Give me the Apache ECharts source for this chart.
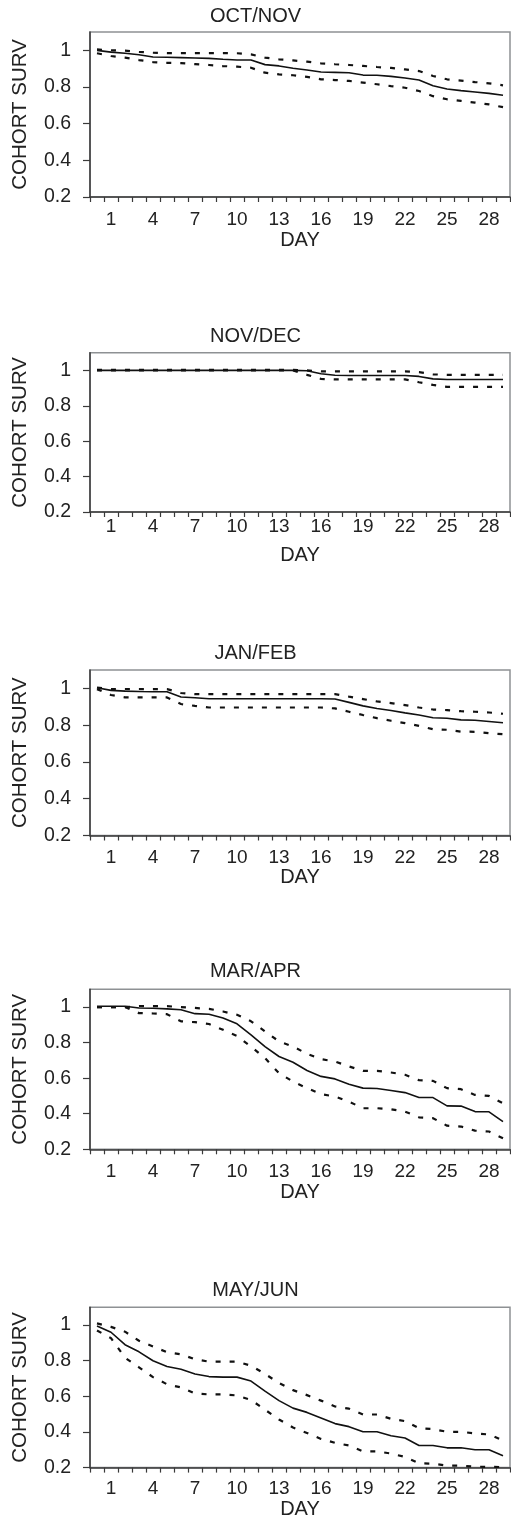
<!DOCTYPE html>
<html>
<head>
<meta charset="utf-8">
<script src="https://cdn.jsdelivr.net/npm/echarts@6/dist/echarts.min.js"></script>
<style>
html,body{margin:0;padding:0;background:#fff;}
#chart{width:511px;height:1520px;}
</style>
</head>
<body>
<div id="chart"></div>
<script>
// Day categories (0..29), labels shown for 1,4,7,...,28
const days = Array.from({length: 30}, (_, i) => String(i));
const yTicks = [0.2, 0.4, 0.6, 0.8, 1];
const panelTitles = ['OCT/NOV', 'NOV/DEC', 'JAN/FEB', 'MAR/APR', 'MAY/JUN'];

// OCT/NOV
const octEst = [1.0,0.99,0.984,0.976,0.964,0.962,0.96,0.958,0.956,0.951,0.947,0.947,0.922,0.915,0.902,0.893,0.882,0.88,0.878,0.865,0.864,0.858,0.849,0.838,0.807,0.789,0.78,0.773,0.765,0.755];
const octUp  = [1.005,1.0,0.998,0.992,0.987,0.985,0.985,0.985,0.985,0.985,0.984,0.978,0.96,0.951,0.945,0.938,0.929,0.924,0.92,0.915,0.909,0.904,0.896,0.887,0.86,0.842,0.835,0.827,0.82,0.809];
const octLo  = [0.984,0.969,0.96,0.947,0.936,0.932,0.93,0.925,0.92,0.914,0.911,0.905,0.878,0.869,0.864,0.855,0.842,0.838,0.833,0.824,0.815,0.805,0.796,0.778,0.75,0.733,0.724,0.715,0.705,0.69];

// NOV/DEC
const novEst = [1.0,1.0,1.0,1.0,1.0,1.0,1.0,1.0,1.0,1.0,1.0,1.0,1.0,1.0,1.0,0.998,0.981,0.973,0.971,0.971,0.971,0.971,0.971,0.966,0.952,0.949,0.949,0.949,0.949,0.949];
const novUp  = [1.003,1.003,1.003,1.003,1.003,1.003,1.003,1.003,1.003,1.003,1.003,1.003,1.003,1.003,1.003,1.0,0.994,0.994,0.994,0.994,0.994,0.994,0.994,0.99,0.978,0.975,0.975,0.975,0.975,0.975];
const novLo  = [1.0,1.0,1.0,1.0,1.0,1.0,1.0,1.0,1.0,1.0,1.0,1.0,1.0,1.0,1.0,0.975,0.952,0.949,0.949,0.949,0.949,0.949,0.949,0.933,0.918,0.907,0.907,0.907,0.907,0.907];

// JAN/FEB
const janEst = [1.003,0.989,0.985,0.983,0.982,0.982,0.953,0.949,0.944,0.944,0.944,0.944,0.944,0.944,0.944,0.944,0.944,0.942,0.924,0.905,0.891,0.88,0.867,0.855,0.84,0.838,0.829,0.827,0.82,0.813];
const janUp  = [1.005,0.996,0.996,0.996,0.996,0.996,0.975,0.969,0.969,0.969,0.969,0.969,0.969,0.969,0.969,0.969,0.969,0.969,0.955,0.942,0.929,0.92,0.909,0.896,0.885,0.882,0.876,0.873,0.869,0.862];
const janLo  = [0.996,0.964,0.951,0.951,0.951,0.951,0.915,0.905,0.896,0.896,0.896,0.896,0.896,0.896,0.896,0.896,0.896,0.891,0.873,0.855,0.838,0.824,0.811,0.796,0.778,0.775,0.765,0.764,0.756,0.751];

// MAR/APR
const marEst = [1.005,1.005,1.005,0.995,0.993,0.99,0.985,0.963,0.96,0.938,0.906,0.844,0.778,0.722,0.69,0.643,0.61,0.596,0.566,0.544,0.542,0.531,0.519,0.491,0.491,0.444,0.443,0.412,0.411,0.356];
const marUp  = [1.0,1.0,1.0,1.005,1.005,1.005,1.0,0.995,0.99,0.975,0.957,0.92,0.863,0.807,0.778,0.737,0.707,0.694,0.666,0.641,0.641,0.632,0.619,0.589,0.585,0.544,0.538,0.506,0.5,0.459];
const marLo  = [1.0,1.0,1.0,0.966,0.964,0.96,0.92,0.915,0.905,0.872,0.838,0.778,0.713,0.628,0.581,0.544,0.51,0.497,0.468,0.431,0.431,0.425,0.412,0.38,0.375,0.333,0.328,0.305,0.3,0.262];

// MAY/JUN
const mayEst = [0.995,0.96,0.89,0.85,0.8,0.768,0.752,0.726,0.711,0.708,0.708,0.686,0.629,0.576,0.534,0.51,0.479,0.447,0.43,0.401,0.401,0.379,0.366,0.324,0.324,0.311,0.311,0.3,0.3,0.266];
const mayUp  = [1.01,0.99,0.963,0.912,0.88,0.848,0.836,0.808,0.795,0.795,0.795,0.772,0.726,0.675,0.635,0.607,0.576,0.543,0.531,0.498,0.498,0.474,0.461,0.421,0.416,0.401,0.401,0.392,0.386,0.352];
const mayLo  = [0.97,0.927,0.817,0.763,0.708,0.668,0.65,0.616,0.611,0.611,0.605,0.58,0.525,0.47,0.425,0.394,0.361,0.339,0.324,0.291,0.291,0.279,0.26,0.224,0.222,0.211,0.211,0.205,0.204,0.203];

const panels = [
  {est: octEst, up: octUp, lo: octLo},
  {est: novEst, up: novUp, lo: novLo},
  {est: janEst, up: janUp, lo: janLo},
  {est: marEst, up: marUp, lo: marLo},
  {est: mayEst, up: mayUp, lo: mayLo}
];

// layout (pixels)
const gridTops    = [32, 352.7, 670, 989.3, 1307.3];
const gridHeights = [165, 159.3, 165.5, 160, 165.4];
const titleTops   = [6, 326.5, 643, 961.5, 1280];
const labelMargins = [13, 5, 12.5, 13, 11.5];
const nameGaps    = [33, 33, 29, 32, 31];

const FONT = "'Liberation Sans', Arial, Helvetica, sans-serif";
const TXT = '#222';
const AX = '#3a3a3a';

const chart = echarts.init(document.getElementById('chart'), null, {renderer: 'canvas'});

const option = {
  animation: false,
  backgroundColor: '#fff',
  textStyle: {fontFamily: FONT},
  title: panelTitles.map((t, i) => ({
    text: t, left: 'center', top: titleTops[i], padding: 0,
    textStyle: {fontFamily: FONT, fontSize: 20, fontWeight: 'normal', color: TXT}
  })),
  grid: gridTops.map((top, i) => ({
    left: 90, right: 1, top: top, height: gridHeights[i],
    show: true, borderColor: '#8e9194', borderWidth: 1.5, backgroundColor: 'transparent'
  })),
  xAxis: gridTops.map((_, i) => ({
    type: 'category', gridIndex: i, data: days, boundaryGap: true,
    name: 'DAY', nameLocation: 'middle', nameGap: nameGaps[i],
    nameTextStyle: {fontFamily: FONT, fontSize: 20, color: TXT},
    axisLine: {show: true, lineStyle: {color: AX, width: 1.5}},
    axisTick: {show: true, interval: 0, length: 5, inside: false, lineStyle: {color: AX, width: 1.2}},
    axisLabel: {
      interval: (idx) => idx % 3 === 1,
      margin: labelMargins[i], fontFamily: FONT, fontSize: 19, color: TXT
    },
    splitLine: {show: false}
  })),
  yAxis: gridTops.map((_, i) => ({
    type: 'value', gridIndex: i, min: 0.2, max: 1.1, interval: 0.2,
    name: 'COHORT SURV', nameLocation: 'middle', nameRotate: 90, nameGap: 59,
    nameTextStyle: {fontFamily: FONT, fontSize: 20.5, color: TXT},
    axisLine: {show: true, lineStyle: {color: AX, width: 1.5}},
    axisTick: {show: true, length: 7, customValues: yTicks, lineStyle: {color: AX, width: 1.2}},
    axisLabel: {customValues: yTicks, margin: 19, fontFamily: FONT, fontSize: 19.5, color: TXT,
      formatter: (v) => String(Math.round(v * 10) / 10)},
    splitLine: {show: false}
  })),
  series: []
};

panels.forEach((p, i) => {
  option.series.push({
    type: 'line', xAxisIndex: i, yAxisIndex: i, data: p.up, symbol: 'none', smooth: false,
    lineStyle: {color: '#111', width: 2.2, type: [5, 9]}
  });
  option.series.push({
    type: 'line', xAxisIndex: i, yAxisIndex: i, data: p.lo, symbol: 'none', smooth: false,
    lineStyle: {color: '#111', width: 2.2, type: [5, 9]}
  });
  option.series.push({
    type: 'line', xAxisIndex: i, yAxisIndex: i, data: p.est, symbol: 'none', smooth: false,
    lineStyle: {color: '#111', width: 1.6, type: 'solid'}
  });
});

chart.setOption(option);
</script>
</body>
</html>
